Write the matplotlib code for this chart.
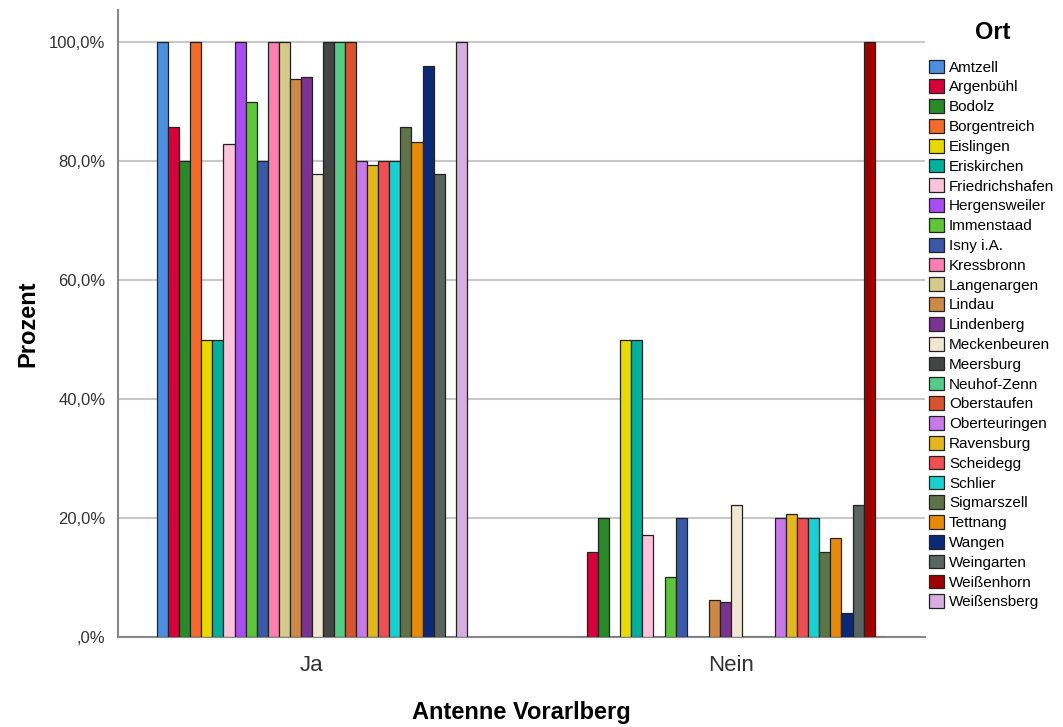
import numpy as np
import matplotlib
matplotlib.use("Agg")
import matplotlib.pyplot as plt
from matplotlib.patches import Patch
from matplotlib.ticker import FuncFormatter

plt.rcParams['font.family'] = ['Liberation Sans', 'DejaVu Sans']

categories = ['Ja', 'Nein']
orte = ['Amtzell', 'Argenbühl', 'Bodolz', 'Borgentreich', 'Eislingen', 'Eriskirchen',
        'Friedrichshafen', 'Hergensweiler', 'Immenstaad', 'Isny i.A.', 'Kressbronn',
        'Langenargen', 'Lindau', 'Lindenberg', 'Meckenbeuren', 'Meersburg',
        'Neuhof-Zenn', 'Oberstaufen', 'Oberteuringen', 'Ravensburg', 'Scheidegg',
        'Schlier', 'Sigmarszell', 'Tettnang', 'Wangen', 'Weingarten', 'Weißenhorn',
        'Weißensberg']

ja = [100, 85.7, 80, 100, 50, 50, 82.9, 100, 90, 80, 100, 100, 93.8, 94.1, 77.8,
      100, 100, 100, 80, 79.3, 80, 80, 85.7, 83.3, 96, 77.8, 0, 100]
nein = [0, 14.3, 20, 0, 50, 50, 17.1, 0, 10, 20, 0, 0, 6.2, 5.9, 22.2,
        0, 0, 0, 20, 20.7, 20, 20, 14.3, 16.7, 4, 22.2, 100, 0]

colors = ['#4c8fe0', '#d6003a', '#2a8a2a', '#f26b2a', '#e8d900', '#00b09a',
          '#fcc4dc', '#a84ef0', '#5ec43a', '#3a5aa8', '#fb7fb0', '#d4ca8c',
          '#cc8844', '#7a3490', '#efe7cf', '#444646', '#55cc88', '#d9532e',
          '#c879e8', '#e2b81e', '#ef4e52', '#1acfcf', '#5e7447', '#e68a0a',
          '#0a2a78', '#5a6460', '#a00000', '#d6aee0']

fig = plt.figure(figsize=(10.63, 7.27), dpi=100)
ax = fig.add_axes([0.111, 0.124, 0.759, 0.862])

n = len(orte)
w = 0.0264
x = np.arange(len(categories))
for i, name in enumerate(orte):
    vals = [ja[i], nein[i]]
    ax.bar(x + (i - (n - 1) / 2) * w, vals, width=w, color=colors[i],
           edgecolor='#222222', linewidth=0.9, zorder=3)

ax.set_xlim(-0.463, 1.463)
ax.set_ylim(0, 105.4)
ax.set_yticks([0, 20, 40, 60, 80, 100])
ax.yaxis.set_major_formatter(FuncFormatter(
    lambda v, p: ',0%' if v == 0 else ('%.1f%%' % v).replace('.', ',')))
ax.set_xticks(x)
ax.set_xticklabels(categories, fontsize=16, color='#333333')
ax.tick_params(axis='y', labelsize=12, colors='#333333', length=0, pad=9)
ax.tick_params(axis='x', length=0, pad=13)
ax.grid(axis='y', color='#c8c8c8', linewidth=1.5, zorder=0)
for s in ['top', 'right']:
    ax.spines[s].set_visible(False)
for s in ['left', 'bottom']:
    ax.spines[s].set_color('#888888')
    ax.spines[s].set_linewidth(1.5)

ax.set_ylabel('Prozent', fontsize=17, fontweight='bold', labelpad=7)
ax.set_xlabel('Antenne Vorarlberg', fontsize=17, fontweight='bold', labelpad=18)

fig.text(0.934, 0.955, 'Ort', fontsize=17, fontweight='bold', ha='center', va='center')
handles = [Patch(facecolor=c, edgecolor='#222222', linewidth=0.9) for c in colors]
leg = fig.legend(handles, orte, loc='upper left', bbox_to_anchor=(0.874, 0.918),
                 frameon=False, fontsize=11,
                 handlelength=1.0, handleheight=1.0, handletextpad=0.3,
                 labelspacing=0.31, borderaxespad=0, borderpad=0)

fig.savefig('out.png', dpi=100)
